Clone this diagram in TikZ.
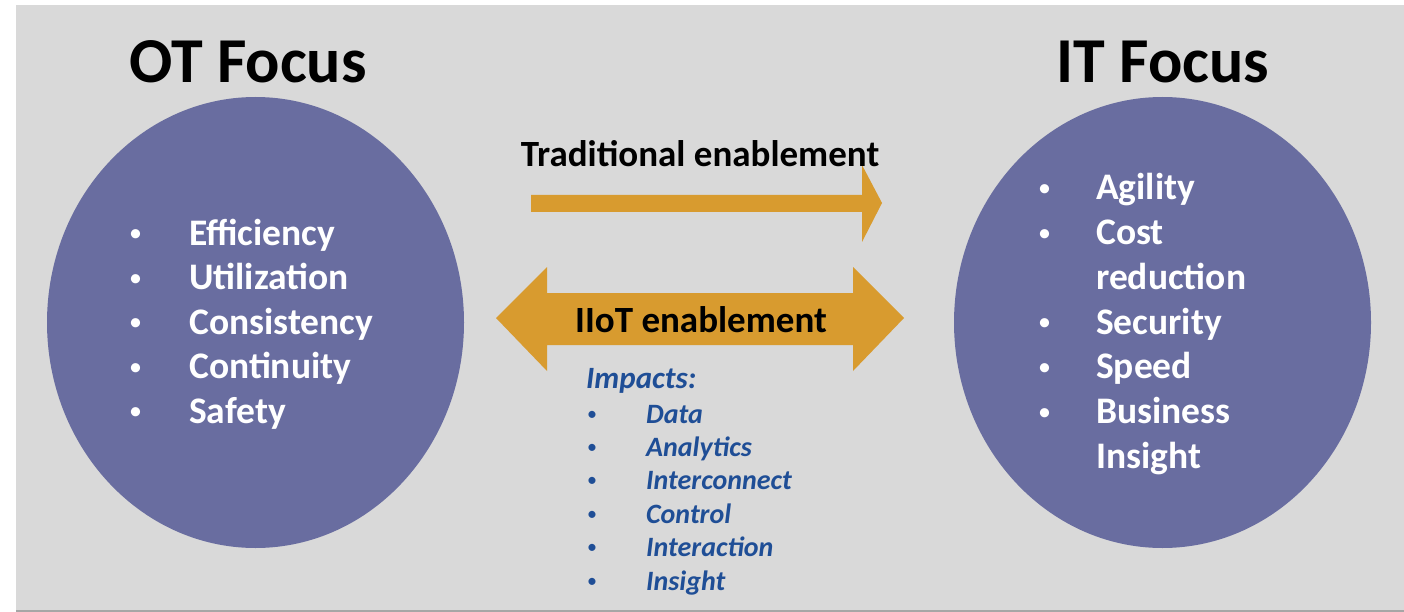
\documentclass[tikz,border=0pt]{standalone}
\usepackage{fontspec}
\setmainfont{Carlito}
\usetikzlibrary{positioning,shapes.geometric}
\definecolor{slideGray}{HTML}{D9D9D9}
\definecolor{edgeGray}{HTML}{A6A6A6}
\definecolor{focusBlue}{HTML}{696DA0}
\definecolor{enableOrange}{HTML}{D89B2F}
\definecolor{impactBlue}{HTML}{1F4E96}
\tikzset{
      focus/.style={ellipse,fill=focusBlue,minimum width=417pt,minimum height=451pt,inner sep=0pt},
      heading/.style={anchor=base,inner sep=0pt,font=\fontsize{64}{76}\selectfont\bfseries},
      enable/.style={anchor=base,inner sep=0pt,font=\fontsize{37}{44}\selectfont\bfseries},
      item/.style={anchor=base west,inner sep=0pt,text=white,font=\fontsize{37.5}{45}\selectfont\bfseries},
      itemdot/.style={anchor=base west,inner sep=0pt,text=white,yshift=3.5pt,font=\fontsize{26}{31}\selectfont},
      impact/.style={anchor=base west,inner sep=0pt,text=impactBlue,font=\fontsize{28}{33}\selectfont\bfseries\itshape},
      impactdot/.style={anchor=base west,inner sep=0pt,text=impactBlue,yshift=3pt,font=\fontsize{20}{24}\selectfont}
    }

\begin{document}
\begin{tikzpicture}[x=1pt,y=-1pt]
\useasboundingbox (0,0) rectangle (1404,612);
\fill[slideGray] (16,5) rectangle (1404,610);
\fill[edgeGray] (16,610) rectangle (1404,612);
% the two circles
\node[focus] (ot) at (255.5,322.5) {};
\node[focus] (it) at (1162.5,322.5) {};
\node[heading] (otTitle) at (248,83) {OT Focus};
\node[heading] (itTitle) at (1163,83) {IT Focus};
% OT list
\foreach \t[count=\i from 0] in {Efficiency,Utilization,Consistency,Continuity,Safety}{
  \node[itemdot] (otDot\i) at (129,245+44.5*\i) {\textbullet};
  \node[item] (otItem\i) at (189,245+44.5*\i) {\t};
}
% IT list, the second item runs on two lines
\foreach \t[count=\i from 0] in {Agility,Cost,reduction,Security,Speed,Business,Insight}{
  \node[item] (itItem\i) at (1096,200+44.7*\i) {\t};
}
\foreach \i in {0,1,3,4,5}{
  \node[itemdot] (itDot\i) at (1038,200+44.7*\i) {\textbullet};
}
% enablement arrows
\fill[enableOrange] (531,195) -- (862,195) -- (862,165) -- (882,203) -- (862,242)
  -- (862,212) -- (531,212) -- cycle;
\node[enable] (trad) at (700,167) {Traditional enablement};
\fill[enableOrange] (496,318) -- (547,267) -- (547,293) -- (853,293) -- (853,267)
  -- (904,318) -- (853,371) -- (853,345) -- (547,345) -- (547,371) -- cycle;
\node[enable] (iiot) at (701,332) {IIoT enablement};
% impacts
\node[impact,font=\fontsize{31}{37}\selectfont\bfseries\itshape] (impacts) at (586,388) {Impacts:};
\foreach \t[count=\i from 0] in {Data,Analytics,Interconnect,Control,Interaction,Insight}{
  \node[impactdot] (impDot\i) at (587,423+33.4*\i) {\textbullet};
  \node[impact] (impItem\i) at (646,423+33.4*\i) {\t};
}
\end{tikzpicture}
\end{document}
